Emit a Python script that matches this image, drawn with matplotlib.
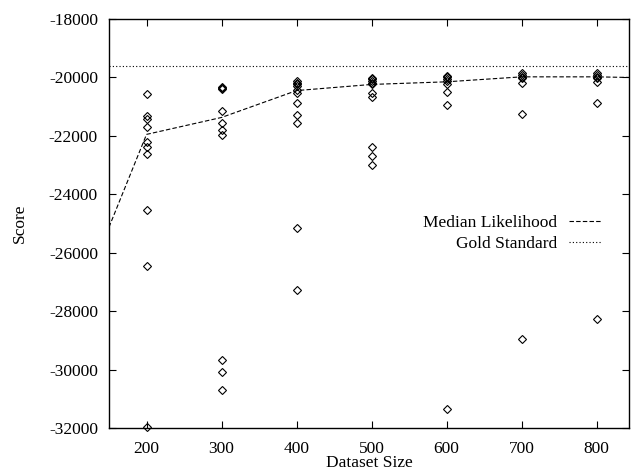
import numpy as np
import matplotlib
matplotlib.use("Agg")
import matplotlib.pyplot as plt

plt.rcParams['font.family'] = ['Liberation Serif', 'DejaVu Serif']
plt.rcParams['font.size'] = 12.5
plt.rcParams['axes.unicode_minus'] = False

# individual runs (dataset size -> scores)
runs = {
    200: [-20560, -21310, -21430, -21700, -22200, -22380, -22630, -24540, -26440, -31960],
    300: [-20320, -20360, -20410, -21150, -21560, -21790, -21980, -29670, -30070, -30700],
    400: [-20110, -20180, -20230, -20290, -20430, -20540, -20890, -21290, -21550, -25140, -27280],
    500: [-20010, -20060, -20120, -20180, -20240, -20520, -20680, -22380, -22700, -22990],
    600: [-19940, -20000, -20050, -20120, -20240, -20510, -20940, -31360],
    700: [-19860, -19920, -19980, -20030, -20180, -21260, -28940],
    800: [-19860, -19920, -19980, -20030, -20170, -20890, -28280],
}

median_x = [100, 200, 300, 400, 500, 600, 700, 800, 900]
median_y = [-28300, -21950, -21370, -20450, -20240, -20150, -19980, -19980, -20030]
gold_standard = -19600

fig = plt.figure(figsize=(6.31, 4.73), dpi=100)
ax = fig.add_axes([109 / 631, 1 - 428 / 473, 520 / 631, 409 / 473])

for size, scores in runs.items():
    ax.plot([size] * len(scores), scores, linestyle='none', marker='D',
            markersize=3.6, markerfacecolor='none', markeredgecolor='black',
            markeredgewidth=0.8, clip_on=False)

ax.plot(median_x, median_y, color='black', linewidth=0.8, dashes=(4, 2),
        label='Median Likelihood')
ax.axhline(gold_standard, color='black', linewidth=0.8, dashes=(1, 2),
           label='Gold Standard')

ax.set_xlim(150, 843)
ax.set_ylim(-32000, -18000)
ax.set_xticks([200, 300, 400, 500, 600, 700, 800])
ax.set_yticks(np.arange(-32000, -17999, 2000))
ax.tick_params(direction='in', top=True, right=True, length=5, width=0.8, pad=9)
ax.tick_params(axis='y', pad=8)
for s in ax.spines.values():
    s.set_linewidth(1.0)

ax.set_xlabel('Dataset Size', labelpad=-1)
ax.set_ylabel('Score', labelpad=15)

ax.legend(loc='upper right', bbox_to_anchor=(0.948, 0.52), frameon=False,
          markerfirst=False, handlelength=1.9, handletextpad=0.7,
          labelspacing=0.25, borderpad=0, borderaxespad=0)

fig.savefig('out.png', dpi=100)
